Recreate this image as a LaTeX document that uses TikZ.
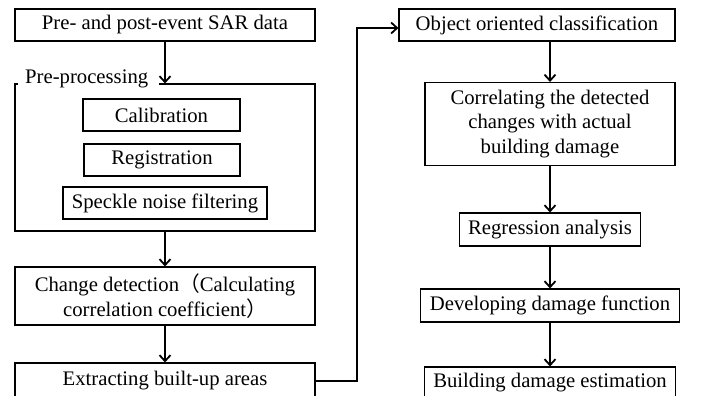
\documentclass[tikz,border=0pt]{standalone}
\usepackage{fontspec}
\setmainfont{Liberation Serif}
\newfontfamily\cjk{Noto Sans CJK SC}
\usetikzlibrary{arrows.meta}
\begin{document}
\begin{tikzpicture}[x=1pt,y=-1pt,
  box/.style={draw,line width=1.1pt,inner sep=0pt,align=center,font=\fontsize{20.7}{24.5}\selectfont},
  arr/.style={line width=2pt,-{Straight Barb[length=6pt,width=11pt,line width=1.8pt]}}]
\useasboundingbox (0,0) rectangle (704,396);
\fill[white] (0,0) rectangle (704,396);
% left column
\node[box,minimum width=300pt,minimum height=32pt] (sar) at (165,25) {Pre- and post-event SAR data};
\node[box,minimum width=300pt,minimum height=147pt] (pre) at (165,157.5) {};
\node[fill=white,inner sep=0pt,minimum width=141pt,minimum height=22pt,anchor=west,font=\fontsize{20.7}{24.5}\selectfont,text width=141pt,align=left] (prelab) at (18,79) {\hspace{7pt}Pre-processing};
\node[box,minimum width=157pt,minimum height=32pt] (cal) at (161.5,115) {Calibration};
\node[box,minimum width=156pt,minimum height=32pt] (reg) at (162,160) {Registration};
\node[box,minimum width=204pt,minimum height=32pt] (spk) at (165,203) {Speckle noise filtering};
\node[box,minimum width=300pt,minimum height=58pt] (chg) at (165,296) {Change detection{\cjk （}Calculating\\correlation coefficient{\cjk ）}};
\node[box,minimum width=300pt,minimum height=36pt] (ext) at (165,381) {Extracting built-up areas};
% right column
\node[box,minimum width=276pt,minimum height=32pt] (obj) at (537,25) {Object oriented classification};
\node[box,minimum width=250pt,minimum height=83pt] (cor) at (550,124) {Correlating the detected\\changes with actual\\building damage};
\node[box,minimum width=181pt,minimum height=33pt] (rga) at (550,229.5) {Regression analysis};
\node[box,minimum width=259pt,minimum height=33pt] (dev) at (550,305.5) {Developing damage function};
\node[box,minimum width=251pt,minimum height=32pt] (bde) at (550,383) {Building damage estimation};
% connectors
\draw[arr] (sar.south) -- (pre.north);
\draw[arr] (pre.south) -- (chg.north);
\draw[arr] (chg.south) -- (ext.north);
\coordinate (turn) at (357,381);
\draw[arr] (ext.east) -- (turn) |- ([yshift=-3pt]obj.west);
\draw[arr] (cor.north |- obj.south) -- (cor.north);
\draw[arr] (cor.south) -- (rga.north);
\draw[arr] (rga.south) -- (dev.north);
\draw[arr] (dev.south) -- (bde.north);
\end{tikzpicture}
\end{document}
